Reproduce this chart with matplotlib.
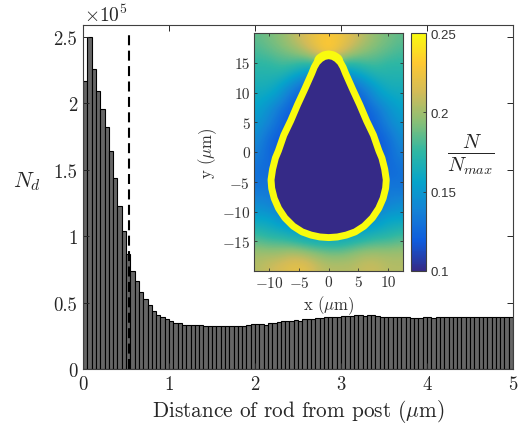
import numpy as np
import matplotlib
matplotlib.use('Agg')
import matplotlib.pyplot as plt
from matplotlib.colors import LinearSegmentedColormap

plt.rcParams['font.family'] = 'cmr10'
plt.rcParams['mathtext.fontset'] = 'cm'
plt.rcParams['axes.unicode_minus'] = False
plt.rcParams['axes.formatter.use_mathtext'] = True

# histogramme, barres de largeur 0.05
bin_width = 0.05
counts = [2.17, 2.50, 2.26, 2.09, 1.96, 1.82, 1.64, 1.44, 1.23, 1.04,
          .865, .74, .66, .58, .53, .48, .44, .41, .39, .375,
          .36, .35, .345, .33, .33, .33,
          .33, .33, .325, .325, .32, .325, .325, .32, .32, .325,
          .325, .325, .335, .34,
          .34, .34, .335, .345, .345, .355, .36, .365, .365, .37,
          .365, .375, .38, .38, .385, .385, .39, .395, .395, .395,
          .40, .40, .40, .405, .405, .40, .405, .41, .40, .395,
          .395, .39, .39, .39, .39, .39, .385, .385, .385, .39,
          .39, .385, .39, .39, .395, .39, .39, .39, .395, .39,
          .39, .39, .39, .39, .395, .395, .39, .395, .39, .39]
cutoff = 0.535

# densité de l'encart, lignes y = 19, 17, ... -19 et colonnes x = -12, -10, ... 12
density = [
    [.185, .19, .195, .205, .215, .225, .23, .225, .215, .205, .195, .19, .185],
    [.18, .185, .19, .195, .205, .22, .235, .22, .205, .195, .19, .185, .18],
    [.175, .175, .18, .18, .175, .18, .20, .18, .175, .18, .18, .175, .175],
    [.17, .17, .17, .16, .15, .14, .14, .14, .15, .16, .17, .17, .17],
    [.165, .165, .155, .14, .125, .12, .12, .12, .125, .14, .155, .165, .165],
    [.16, .155, .145, .125, .12, .12, .12, .12, .12, .125, .145, .155, .16],
    [.155, .145, .13, .12, .115, .115, .115, .115, .115, .12, .13, .145, .155],
    [.15, .14, .125, .115, .115, .115, .115, .115, .115, .115, .125, .14, .15],
    [.145, .13, .12, .115, .115, .115, .115, .115, .115, .115, .12, .13, .145],
    [.14, .125, .115, .115, .115, .115, .115, .115, .115, .115, .115, .125, .14],
    [.135, .125, .12, .115, .115, .115, .115, .115, .115, .115, .12, .125, .135],
    [.13, .125, .125, .12, .12, .12, .12, .12, .12, .12, .125, .125, .13],
    [.13, .13, .13, .12, .12, .12, .12, .12, .12, .12, .13, .13, .13],
    [.135, .135, .13, .125, .125, .125, .125, .125, .125, .125, .13, .135, .135],
    [.145, .14, .135, .13, .13, .13, .13, .13, .13, .13, .135, .14, .145],
    [.155, .155, .145, .14, .135, .135, .135, .135, .135, .14, .145, .155, .155],
    [.17, .165, .16, .155, .15, .15, .15, .15, .15, .155, .16, .165, .17],
    [.185, .18, .18, .175, .17, .165, .165, .165, .17, .175, .18, .18, .185],
    [.20, .20, .20, .205, .20, .195, .19, .19, .195, .20, .20, .20, .20],
    [.205, .21, .215, .22, .22, .21, .205, .205, .205, .21, .21, .205, .205],
]

# contour du plot (côté droit, symétrique)
post_x = [0, .5, 1, 1.5, 1.9, 2.3, 3.5, 4.7, 5.85, 7, 7.9, 8.4, 8.85, 9.1, 9,
          8.6, 7.9, 6.9, 5.6, 4.2, 2.8, 1.4, 0]
post_y = [15.6, 15.5, 15.2, 14.7, 14, 13, 10.3, 7.7, 5, 2.6, 0, -1.2, -3, -4.7, -6,
          -7.6, -9.2, -10.7, -12, -12.9, -13.4, -13.7, -13.8]
tip_x = [-1, -.5, 0, .5, 1]
tip_y = [15.2, 15.5, 15.6, 15.5, 15.2]

parula = LinearSegmentedColormap.from_list('parula', [
    '#352a87', '#0f5cdd', '#1481d6', '#06a4ca', '#2eb7a4',
    '#87bf77', '#d1bb59', '#fec832', '#f9fb0e'])

W, H = 521, 427
fig = plt.figure(figsize=(W / 100, H / 100), dpi=100)

# histogramme principal
ax = fig.add_axes([83 / W, 1 - 370 / H, 430 / W, 344 / H])
edges = np.arange(len(counts)) * bin_width
ax.bar(edges, counts, width=bin_width, align='edge', color='#666666',
       edgecolor='black', linewidth=0.8)
ax.plot([cutoff, cutoff], [0, 2.54], color='black', lw=1.5, dashes=(4.8, 2.6))
ax.set_xlim(0, 5)
ax.set_ylim(0, 2.59)
ax.set_yticks([0, 0.5, 1, 1.5, 2, 2.5])
ax.set_yticklabels(['0', '0.5', '1', '1.5', '2', '2.5'])
ax.tick_params(direction='in', top=True, right=True, length=4, width=0.7,
               labelsize=13.5, colors='#262626', pad=4)
for s in ax.spines.values():
    s.set_linewidth(0.8)
    s.set_color('#404040')
ax.set_xlabel(r'Distance of rod from post ($\mu$m)', fontsize=15.3, color='#262626', labelpad=3)
fig.text(27 / W, 1 - 182 / H, r'$N_d$', fontsize=16, ha='center', va='center', color='#262626')
fig.text(84 / W, 1 - 15 / H, r'$\times 10^5$', fontsize=14, ha='left', va='center', color='#262626')

# encart
inset = fig.add_axes([254.3 / W, 1 - 272 / H, 148.7 / W, 238 / H])
im = inset.imshow(density, extent=[-13, 13, -20, 20], aspect='auto',
                  cmap=parula, vmin=0.1, vmax=0.25, interpolation='bicubic')
xs = list(post_x) + [-v for v in post_x[::-1]]
ys = list(post_y) + list(post_y[::-1])
inset.fill(xs, ys, facecolor='#352a87', edgecolor='#f9fb0e', lw=10, joinstyle='round', zorder=2)
inset.plot(tip_x, tip_y, color='#f9fb0e', lw=12.5, solid_capstyle='round', zorder=2)
inset.fill(xs, ys, facecolor='#352a87', edgecolor='none', zorder=3)
inset.set_xlim(-12.5, 12.5)
inset.set_ylim(-20, 20)
inset.set_xticks([-10, -5, 0, 5, 10])
inset.set_xticklabels(['$-10$', '$-5$', '0', '5', '10'])
inset.set_yticks([-15, -10, -5, 0, 5, 10, 15])
inset.set_yticklabels(['$-15$', '$-10$', '$-5$', '0', '5', '10', '15'])
inset.tick_params(direction='in', top=True, right=True, length=2, width=0.6,
                  labelsize=11, colors='#333333', pad=3)
for s in inset.spines.values():
    s.set_linewidth(0.8)
    s.set_color('#404040')
inset.set_xlabel(r'x ($\mu$m)', fontsize=12, color='#333333', labelpad=2)
inset.set_ylabel(r'y ($\mu$m)', fontsize=12, color='#333333', labelpad=2)

# barre de couleur
cax = fig.add_axes([411 / W, 1 - 272 / H, 15 / W, 238 / H])
cb = fig.colorbar(im, cax=cax)
cb.set_ticks([0.1, 0.15, 0.2, 0.25])
cb.set_ticklabels(['0.1', '0.15', '0.2', '0.25'])
cax.tick_params(direction='in', length=2, width=0.6, pad=3, colors='#333333')
for lab in cax.get_yticklabels():
    lab.set_fontfamily('Liberation Sans')
    lab.set_fontsize(9.5)
cb.outline.set_linewidth(0.8)
cb.outline.set_edgecolor('#404040')
fig.text(471 / W, 1 - 155 / H, r'$\frac{N}{N_{max}}$', fontsize=21, ha='center', va='center', color='#262626')

fig.savefig('out.png', dpi=100)
